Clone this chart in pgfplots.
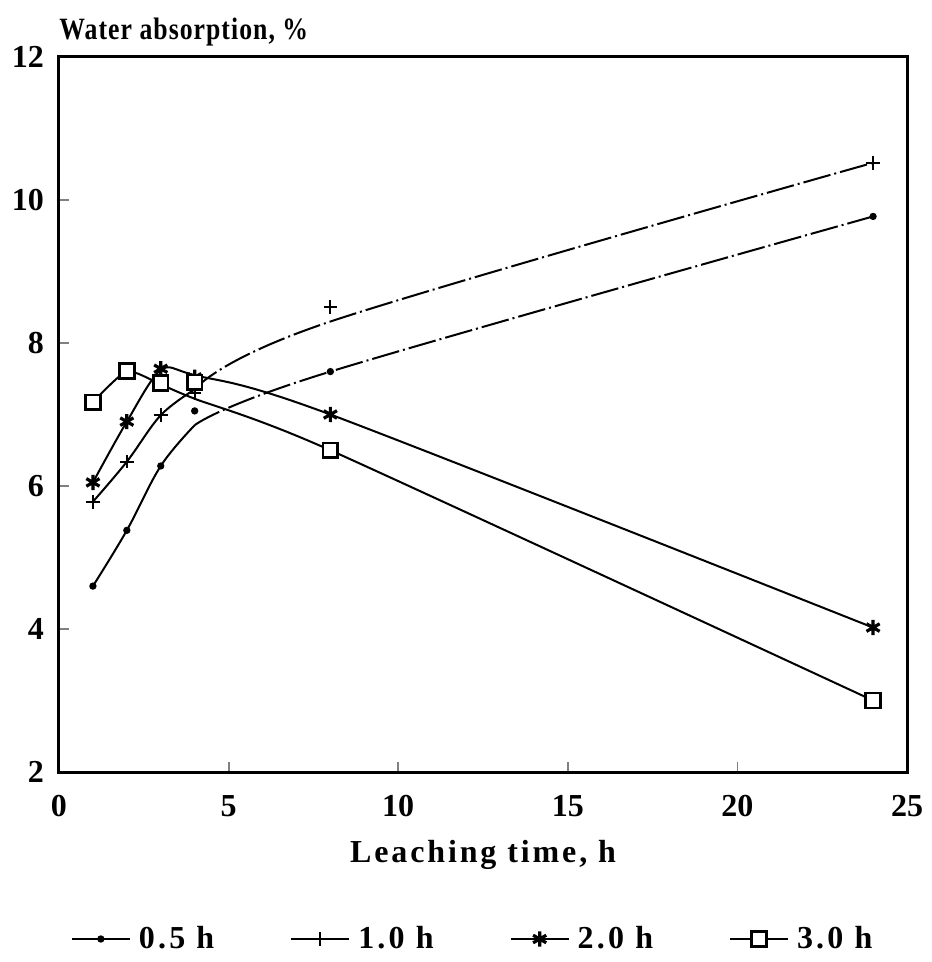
\documentclass[border=0pt]{standalone}
\usepackage{pgfplots}
\pgfplotsset{compat=1.18}
\usepackage{fontspec}
\setmainfont{Liberation Serif}
\usetikzlibrary{plotmarks}
\begin{document}
\begin{tikzpicture}
\path[use as bounding box] (-29.5pt,-95pt) rectangle (436pt,386pt);
\begin{axis}[
  at={(0,0)}, anchor=south west,
  scale only axis,
  width=424pt, height=357.5pt,
  xmin=0, xmax=25, ymin=2, ymax=12,
  xtick={0,5,10,15,20,25},
  ytick={2,4,6,8,10,12},
  tick align=inside,
  xtick pos=bottom, ytick pos=left,
  major tick length=5pt,
  tick style={line width=0.9pt},
  /pgf/number format/assume math mode=true,
  tick label style={font=\fontsize{16}{18}\selectfont\bfseries},
  yticklabel style={xshift=-4pt},
  xticklabel style={yshift=-8pt},
  xlabel={Leaching time, h},
  xlabel style={font=\fontsize{16}{18}\selectfont\bfseries\addfontfeatures{LetterSpace=9}, at={(axis description cs:0.5,0)}, anchor=base, yshift=-45pt},
  ylabel={\scalebox{0.83}[1]{Water absorption, \%}},
  ylabel style={font=\fontsize{15.5}{18}\selectfont\bfseries\addfontfeatures{LetterSpace=4}, rotate=-90, at={(rel axis cs:0,1)}, anchor=base west, xshift=0pt, yshift=8.5pt, inner sep=0pt},
  axis line style={line width=1.5pt},
  every axis plot/.append style={line width=1pt, black},
  legend columns=4,
  legend style={draw=none, at={(axis description cs:0.489,0)}, anchor=center, yshift=-83.5pt,
    font=\fontsize{16}{18}\selectfont\bfseries\addfontfeatures{LetterSpace=10},
    /tikz/every odd column/.append style={column sep=2pt},
    /tikz/every even column/.append style={column sep=36pt}},
  legend image code/.code={
    \draw[black, line width=1pt] (0pt,0pt) -- (29pt,0pt);
    \path[#1] plot coordinates {(14.5pt,0pt)};
  },
]
% ---- curves (drawn lines) ----
\addplot[smooth, tension=0.6, forget plot] coordinates {
 (1,4.6) (2,5.38) (3,6.28) (4,6.85)};
\addplot[smooth, tension=0.6, forget plot, dash pattern=on 14pt off 2pt on 1pt off 2pt] coordinates {
 (4,6.85) (8,7.6) (24,9.77)};
\addplot[smooth, tension=0.6, forget plot] coordinates {
 (1,5.78) (2,6.34) (3,6.99) (4,7.35)};
\addplot[smooth, tension=0.6, forget plot, dash pattern=on 14pt off 2pt on 1pt off 2pt] coordinates {
 (4,7.35) (8,8.3) (24,10.52)};
\addplot[smooth, tension=0.5, forget plot] coordinates {
 (1,6.05) (2,6.9) (3,7.62) (4,7.55) (8,7.0) (24,4.02)};
\addplot[smooth, tension=0.4, forget plot] coordinates {
 (1,7.17) (2,7.6) (3,7.42) (4,7.22) (8,6.5) (24,3.0)};
% ---- measured points ----
\addplot[only marks, mark=*, mark size=1.3pt] coordinates {
 (1,4.6) (2,5.38) (3,6.28) (4,7.05) (8,7.6) (24,9.77)};
\addlegendentry{0.5 h}
\addplot[only marks, mark=+, mark size=3.4pt, mark options={line width=0.9pt}] coordinates {
 (1,5.78) (2,6.34) (3,6.99) (4,7.3) (8,8.5) (24,10.52)};
\addlegendentry{1.0 h}
\addplot[only marks, mark=asterisk, mark size=3.8pt, mark options={line width=1.6pt}] coordinates {
 (1,6.05) (2,6.9) (3,7.64) (4,7.52) (8,7.0) (24,4.02)};
\addlegendentry{2.0 h}
\addplot[only marks, mark=square*, mark size=3.7pt, mark options={fill=white, line width=1.3pt}] coordinates {
 (1,7.17) (2,7.61) (3,7.44) (4,7.45) (8,6.5) (24,3.0)};
\addlegendentry{3.0 h}
\end{axis}
\end{tikzpicture}
\end{document}
